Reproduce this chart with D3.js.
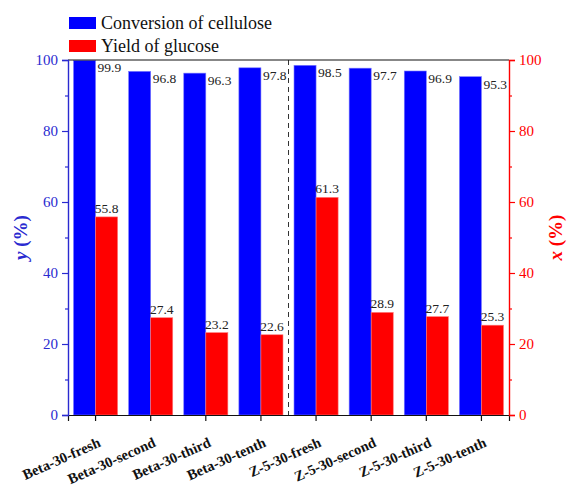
<!DOCTYPE html>
<html>
<head>
<meta charset="utf-8">
<script src="https://cdn.jsdelivr.net/npm/d3@7"></script>
<style>
  html, body { margin: 0; padding: 0; background: #fff; }
  svg { display: block; font-family: "Liberation Serif", "Times New Roman", serif; }
</style>
</head>
<body>
<svg id="chart" width="567" height="488"></svg>
<script>
const categories = ["Beta-30-fresh", "Beta-30-second", "Beta-30-third", "Beta-30-tenth",
                    "Z-5-30-fresh", "Z-5-30-second", "Z-5-30-third", "Z-5-30-tenth"];
const conversion = [99.9, 96.8, 96.3, 97.8, 98.5, 97.7, 96.9, 95.3];
const glucoseYield = [55.8, 27.4, 23.2, 22.6, 61.3, 28.9, 27.7, 25.3];
const yTicks = [0, 20, 40, 60, 80, 100];
const yMinorTicks = [10, 30, 50, 70, 90];
const seriesNames = ["Conversion of cellulose", "Yield of glucose"];

const BLUE = "#0000ff", RED = "#ff0000", AXIS_BLUE = "#2a2ad0";
const plotL = 68, plotR = 509, plotT = 60, plotB = 415;

const svg = d3.select("#chart");

const x = d3.scaleBand().domain(categories).range([plotL, plotR]).paddingInner(0).paddingOuter(0);
const yL = d3.scaleLinear().domain([0, 100]).range([plotB, plotT]);
const yR = d3.scaleLinear().domain([0, 100]).range([plotB, plotT]);
const barW = x.bandwidth() * 0.4;
const center = c => x(c) + x.bandwidth() / 2;

// bars
const g = svg.append("g");
g.selectAll("rect.conv").data(categories).join("rect")
  .attr("class", "conv")
  .attr("x", c => center(c) - barW)
  .attr("width", barW)
  .attr("y", (c, i) => yL(conversion[i]))
  .attr("height", (c, i) => yL(0) - yL(conversion[i]))
  .attr("fill", BLUE).attr("stroke", "#7a7aff").attr("stroke-width", 0.6);

g.selectAll("rect.yield").data(categories).join("rect")
  .attr("class", "yield")
  .attr("x", c => center(c))
  .attr("width", barW)
  .attr("y", (c, i) => yR(glucoseYield[i]))
  .attr("height", (c, i) => yR(0) - yR(glucoseYield[i]))
  .attr("fill", RED).attr("stroke", "#ff7a7a").attr("stroke-width", 0.6);

// value labels
g.selectAll("text.convLab").data(categories).join("text")
  .attr("class", "convLab")
  .attr("x", c => center(c) + 2)
  .attr("y", (c, i) => yL(conversion[i]) + 12)
  .attr("font-size", 13.5).attr("fill", "#222")
  .text((c, i) => conversion[i].toFixed(1));

g.selectAll("text.yieldLab").data(categories).join("text")
  .attr("class", "yieldLab")
  .attr("x", c => center(c) + barW / 2)
  .attr("y", (c, i) => yR(glucoseYield[i]) - 4)
  .attr("text-anchor", "middle")
  .attr("font-size", 13.5).attr("fill", "#222")
  .text((c, i) => glucoseYield[i].toFixed(1));

// dashed separator between the two catalyst groups
const sepX = (center(categories[3]) + center(categories[4])) / 2;
svg.append("line")
  .attr("x1", sepX).attr("x2", sepX).attr("y1", plotT).attr("y2", plotB)
  .attr("stroke", "#333").attr("stroke-width", 1).attr("stroke-dasharray", "5,4");

// frame top
svg.append("line").attr("x1", plotL).attr("x2", plotR).attr("y1", plotT).attr("y2", plotT)
  .attr("stroke", "#111").attr("stroke-width", 1.2);

// bottom axis
const xAxis = svg.append("g").attr("transform", `translate(0,${plotB})`)
  .call(d3.axisBottom(x).tickSize(6).tickFormat(""));
xAxis.select(".domain").attr("stroke", "#111").attr("stroke-width", 1.2);
xAxis.selectAll(".tick line").attr("stroke", "#111").attr("stroke-width", 1.2);

svg.append("g").selectAll("text").data(categories).join("text")
  .attr("transform", c => `translate(${center(c) + 6},${plotB + 31}) rotate(-24)`)
  .attr("text-anchor", "end")
  .attr("font-size", 14.5).attr("font-weight", "bold").attr("fill", "#111")
  .text(c => c);

// left axis
const leftAxis = svg.append("g").attr("transform", `translate(${plotL},0)`)
  .call(d3.axisLeft(yL).tickValues(yTicks).tickSize(6).tickPadding(4));
leftAxis.select(".domain").attr("stroke", AXIS_BLUE).attr("stroke-width", 1.4);
leftAxis.selectAll(".tick line").attr("stroke", AXIS_BLUE).attr("stroke-width", 1.2);
leftAxis.selectAll(".tick text").attr("fill", AXIS_BLUE).attr("font-size", 15)
  .attr("font-family", "Liberation Serif, serif");
svg.append("g").attr("transform", `translate(${plotL},0)`)
  .call(d3.axisLeft(yL).tickValues(yMinorTicks).tickSize(3).tickFormat(""))
  .call(s => s.select(".domain").remove())
  .selectAll(".tick line").attr("stroke", AXIS_BLUE).attr("stroke-width", 1.2);

// right axis
const rightAxis = svg.append("g").attr("transform", `translate(${plotR},0)`)
  .call(d3.axisRight(yR).tickValues(yTicks).tickSize(6).tickPadding(4));
rightAxis.select(".domain").attr("stroke", RED).attr("stroke-width", 1.4);
rightAxis.selectAll(".tick line").attr("stroke", RED).attr("stroke-width", 1.2);
rightAxis.selectAll(".tick text").attr("fill", RED).attr("font-size", 15)
  .attr("font-family", "Liberation Serif, serif");
svg.append("g").attr("transform", `translate(${plotR},0)`)
  .call(d3.axisRight(yR).tickValues(yMinorTicks).tickSize(3).tickFormat(""))
  .call(s => s.select(".domain").remove())
  .selectAll(".tick line").attr("stroke", RED).attr("stroke-width", 1.2);

// axis titles
const midY = (plotT + plotB) / 2;
const lt = svg.append("text")
  .attr("transform", `translate(27,${midY}) rotate(-90)`)
  .attr("text-anchor", "middle").attr("font-size", 19).attr("font-weight", "bold")
  .attr("fill", AXIS_BLUE);
lt.append("tspan").attr("font-style", "italic").text("y");
lt.append("tspan").text(" (%)");

const rt = svg.append("text")
  .attr("transform", `translate(562,${midY}) rotate(-90)`)
  .attr("text-anchor", "middle").attr("font-size", 19).attr("font-weight", "bold")
  .attr("fill", RED);
rt.append("tspan").attr("font-style", "italic").text("x");
rt.append("tspan").text(" (%)");

// legend
const legend = svg.append("g").attr("transform", "translate(69,17)");
[BLUE, RED].forEach((col, i) => {
  const row = legend.append("g").attr("transform", `translate(0,${i * 23})`);
  row.append("rect").attr("width", 27).attr("height", 12).attr("fill", col);
  row.append("text").attr("x", 32).attr("y", 12).attr("font-size", 18).attr("fill", "#111")
    .text(seriesNames[i]);
});
</script>
</body>
</html>
